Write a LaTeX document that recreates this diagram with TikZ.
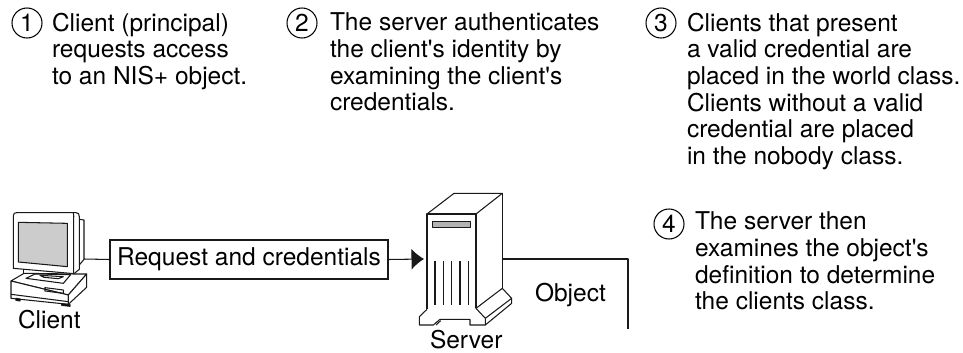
\documentclass[tikz,border=0pt]{standalone}
\usepackage{fontspec}
\setmainfont{TeX Gyre Heros}
\usetikzlibrary{arrows.meta}
\tikzset{
  ln/.style={line width=1.05pt,black!90,line join=round},
  para/.style={inner sep=0pt,outer sep=0pt,align=left,anchor=north west,font=\fontsize{24.5}{26.6}\selectfont},
  lbl/.style={inner sep=0pt,outer sep=0pt,anchor=base west,font=\fontsize{24.5}{26.6}\selectfont},
  num/.style={circle,draw,line width=1.05pt,minimum size=30pt,inner sep=0pt,font=\fontsize{24.5}{26.6}\selectfont},
  reqbox/.style={draw=black!90,line width=1.05pt,inner sep=0pt,minimum width=278pt,minimum height=39pt,font=\fontsize{24.5}{26.6}\selectfont},
  screenfill/.style={fill=black!20}
}
\begin{document}
\begin{tikzpicture}[x=1pt,y=-1pt]
\useasboundingbox (0,0) rectangle (963,353);
% step numbers
\node[num] (n1) at (27,23) {1};
\node[num] (n2) at (302,23) {2};
\node[num] (n3) at (661,23) {3};
\node[num] (n4) at (669,224) {4};
% step texts
\node[para] (t1) at (52,13) {Client (principal)\\requests access\\to an NIS+ object.};
\node[para] (t2) at (330,13) {The server authenticates\\the client\textquotesingle s identity by\\examining the client\textquotesingle s\\credentials.};
\node[para] (t3) at (687,13) {Clients that present\\a valid credential are\\placed in the world class.\\Clients without a valid\\credential are placed\\in the nobody class.};
\node[para] (t4) at (695,212) {The server then\\examines the object\textquotesingle s\\definition to determine\\the clients class.};
% client computer
\begin{scope}[shift={(0,190)},x=0.3333pt,y=-0.3333pt,ln]
  \draw[fill=white] (238,88) -- (252,90) -- (252,208) -- (238,225) -- cycle;
  \draw[fill=white] (40,78) .. controls (40,70) and (44,68) .. (50,68) -- (228,68) .. controls (235,68) and (238,72) .. (238,80) -- (238,238) -- (222,251) -- (40,235) -- cycle;
  \draw (220,69) .. controls (222,75) and (221,80) .. (221,90) -- (221,251);
  \draw[screenfill] (55,97) -- (202,100) -- (202,230) -- (55,216) -- cycle;
  \draw (70,238) -- (70,248);
  \draw[fill=white] (33,273) -- (72,250) -- (222,252) -- (260,252) -- (205,315) -- cycle;
  \draw[fill=white] (33,273) -- (205,315) -- (205,343) -- (33,325) -- cycle;
  \draw (33,313) -- (205,335);
  \draw[fill=white] (205,315) -- (260,252) -- (260,292) -- (205,343) -- cycle;
  \draw (78,265) -- (105,252) -- (212,254) -- (190,280) -- cycle;
  \draw (120,256) -- (190,260) -- (175,266) -- (132,262) -- cycle;
  \draw (135,293) -- (190,300) -- (190,310) -- (135,303) -- cycle;
  \draw[fill=black] (48,325) -- (60,327) -- (60,333) -- (48,331) -- cycle;
  \draw[fill=black] (185,341) -- (210,344) -- (210,349) -- (185,346) -- cycle;
\end{scope}
\node[lbl] (clabel) at (18,328) {Client};
% server
\begin{scope}[shift={(380,190)},x=0.3333pt,y=-0.3333pt,ln]
  \draw (141,72) -- (222,10) -- (367,10) -- (288,72);
  \draw (367,10) -- (367,295);
  \draw (141,358) -- (141,72) -- (288,72) -- (288,355);
  \draw (288,355) -- (367,295) -- (395,325) -- (316,385) -- cycle;
  \draw (395,325) -- (395,340) -- (316,405) -- (316,385);
  \draw (141,358) -- (118,380) -- (118,405) -- (160,405) -- (180,388) -- (270,388) -- (270,405) -- (316,405);
  \draw (168,405) -- (182,392);
  \draw[fill=black!30] (158,95) rectangle (272,112);
  \foreach \vx in {165,190,215,240,265} \draw (\vx,213) -- (\vx,345);
\end{scope}
\node[lbl] (slabel) at (430,348.5) {Server};
% connectors
\coordinate (cport) at (84,259);
\coordinate (sport) at (424,259);
\coordinate (sback) at (502,259);
\coordinate (oend) at (628,329);
\node[reqbox] (req) at (249,259.5) {\raisebox{-1pt}{Request and credentials}};
\draw[ln] (cport) -- (req.west);
\draw[ln,-{Latex[length=12.5pt,width=21pt]}] (req.east) -- (sport);
\draw[ln] (sback) -| (oend);
\node[lbl] (olabel) at (535,301) {Object};
\end{tikzpicture}
\end{document}
